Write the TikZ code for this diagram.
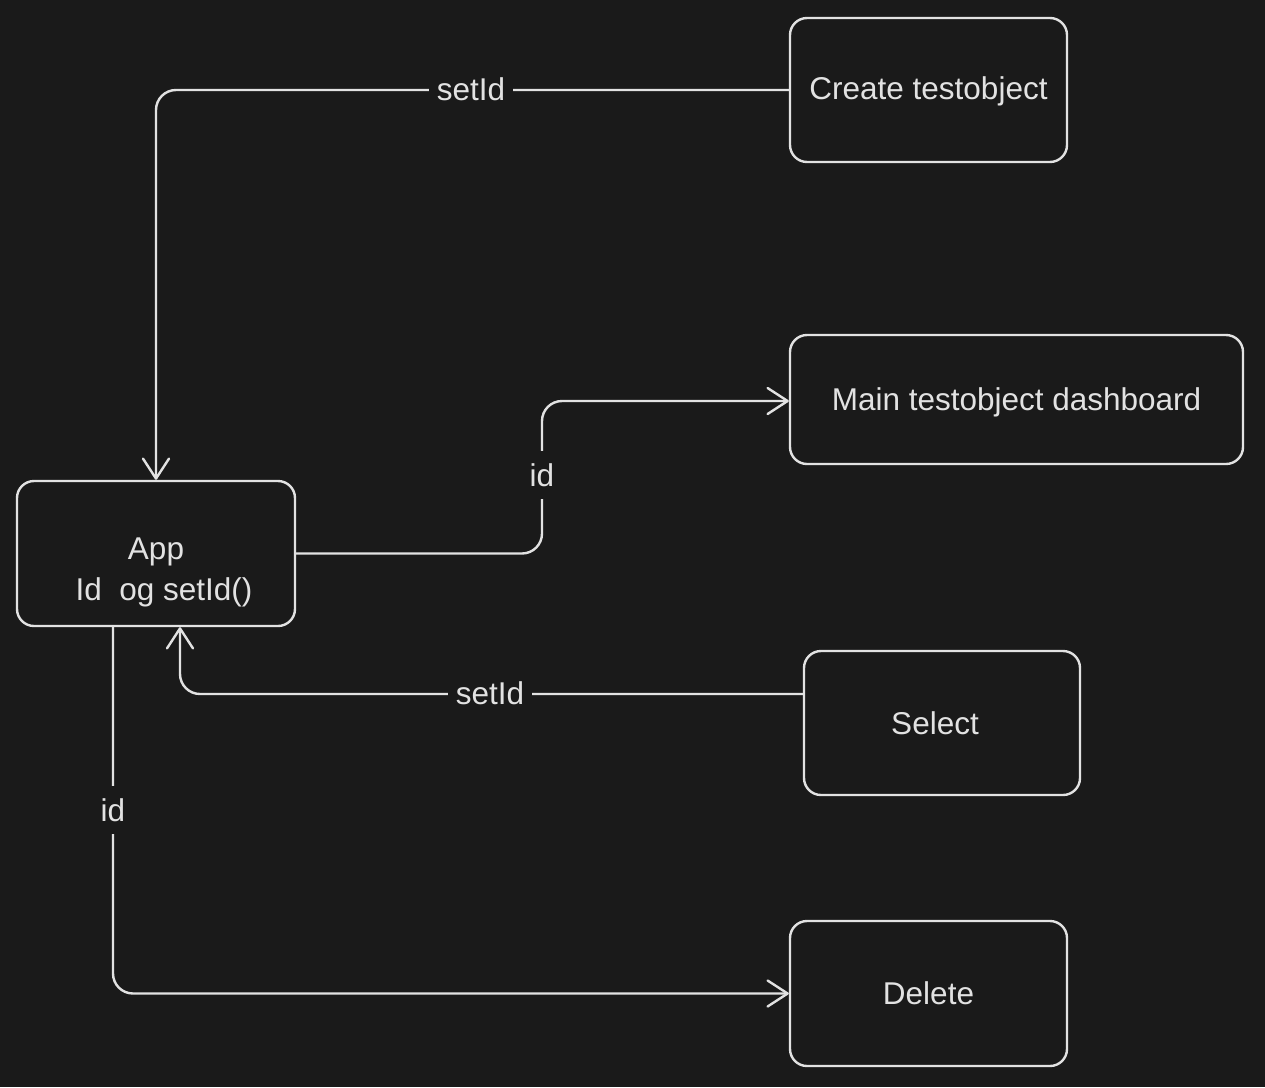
\documentclass[tikz,border=0pt]{standalone}
\usepackage{fontspec}
\setmainfont{Liberation Sans}
\usetikzlibrary{arrows.meta}
\definecolor{bg}{HTML}{1A1A1A}
\definecolor{fg}{HTML}{E2E2E2}
\begin{document}
\begin{tikzpicture}[x=1pt,y=-1pt,
  box/.style={draw=fg, line width=2.4pt, rounded corners=17pt, text=fg,
    font=\fontsize{31.5}{40}\selectfont, inner sep=0pt, text height=22.5pt, text depth=0pt},
  txt/.style={text=fg, font=\fontsize{31.5}{41}\selectfont, inner sep=0pt, align=center},
  lbl/.style={text=fg, fill=bg, font=\fontsize{31.5}{36}\selectfont, inner xsep=8pt, inner ysep=12pt},
  conn/.style={draw=fg, line width=2.4pt, rounded corners=20pt,
    -{Straight Barb[length=20pt,width=26pt,line width=2.4pt,round]}}]
\fill[bg] (0,0) rectangle (1265,1087);
\useasboundingbox (0,0) rectangle (1265,1087);

\node[box, minimum width=278pt, minimum height=145pt, text height=0pt] (app) at (156,553.5) {};
\node[txt] (apptext) at (156,572) {App\\\hspace*{16pt}Id\ \ og setId()};
\node[box, minimum width=277pt, minimum height=144pt, text height=18.5pt] (create) at (928.5,90) {Create testobject};
\node[box, minimum width=453pt, minimum height=129pt] (main) at (1016.5,399.5) {Main testobject dashboard};
\node[box, minimum width=276pt, minimum height=144pt] (select) at (942,723) {\hspace*{-14pt}Select};
\node[box, minimum width=277pt, minimum height=145pt] (delete) at (928.5,993.5) {Delete};

% Create -> App
\draw[conn] (create.west) -| (app.north);
\node[lbl] (l1) at (471,89) {setId};

% App -> Main
\coordinate (c2) at (542,475);
\draw[conn] (app.east) -| (c2) |- ([yshift=-1.5pt]main.west);
\node[lbl, inner xsep=4pt] (l2) at (c2) {id};

% Select -> App
\draw[conn] ([yshift=29pt]select.west) -| ([xshift=24pt]app.south);
\node[lbl] (l3) at (490,693) {setId};

% App -> Delete
\draw[conn] ([xshift=-43pt]app.south) |- (delete.west);
\node[lbl, inner xsep=4pt] (l4) at (113,810) {id};
\end{tikzpicture}
\end{document}
